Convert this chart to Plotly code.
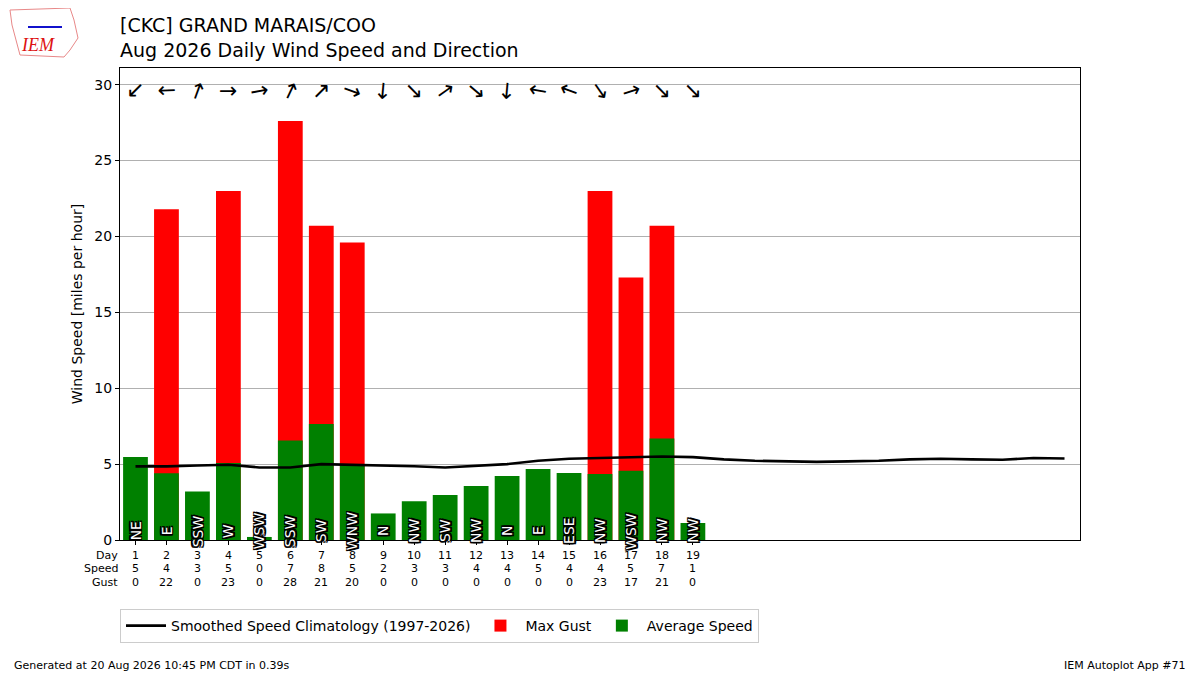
import plotly.graph_objects as go

# ---------------- data ----------------
days = list(range(1, 20))
avg_speed = [5.47, 4.4, 3.2, 5.07, 0.2, 6.55, 7.65, 5.0, 1.75, 2.55,
             2.97, 3.56, 4.22, 4.68, 4.42, 4.35, 4.57, 6.68, 1.12]
max_gust = [0, 21.8, 0, 23.0, 0, 27.6, 20.7, 19.6, 0, 0,
            0, 0, 0, 0, 0, 23.0, 17.3, 20.7, 0]
dir_labels = ["NE", "E", "SSW", "W", "WSW", "SSW", "SW", "WNW", "N", "NW",
              "SW", "NW", "N", "E", "ESE", "NW", "WSW", "NW", "NW"]
dir_deg = [45, 88, 200, 270, 260, 205, 225, 290, 5, 315,
           235, 310, 5, 100, 110, 325, 252, 315, 315]
clim_days = list(range(1, 32))
clim_speed = [4.85, 4.85, 4.91, 4.96, 4.78, 4.78, 5.0, 4.96, 4.93, 4.86,
              4.78, 4.87, 5.0, 5.22, 5.35, 5.4, 5.44, 5.5, 5.46, 5.31,
              5.22, 5.18, 5.15, 5.18, 5.22, 5.31, 5.35, 5.31, 5.29, 5.4, 5.37]

# ---------------- layout helpers ----------------
OFF = 8  # page body margin
W, H = 1200 - OFF, 675 - OFF
L, R, T, B = 120, 1080, 68, 540  # plot area in window pixels


def px(x):
    return (x - L) / (R - L)


def py(y):
    return (B - y) / (B - T)


FONT = "DejaVu Sans"

fig = go.Figure()
fig.add_trace(go.Bar(x=days, y=max_gust, width=0.8, marker=dict(color="#ff0000", line_width=0),
                     name="Max Gust", legendrank=2))
fig.add_trace(go.Bar(x=days, y=avg_speed, width=0.8, marker=dict(color="#008000", line_width=0),
                     name="Average Speed", legendrank=3))
fig.add_trace(go.Scatter(x=clim_days, y=clim_speed, mode="lines", line=dict(color="black", width=2.6),
                         name="Smoothed Speed Climatology (1997-2026)", legendrank=1))

ann = []
o = "1.5px"
outline = (f"{o} {o} 0 #000, -{o} -{o} 0 #000, {o} -{o} 0 #000, -{o} {o} 0 #000, "
           f"0 {o} 0 #000, 0 -{o} 0 #000, {o} 0 0 #000, -{o} 0 0 #000")
for d, lab, deg, s, g in zip(days, dir_labels, dir_deg, avg_speed, max_gust):
    # direction label inside the bar
    ann.append(dict(x=d, y=0.6, xref="x", yref="y", text=lab, showarrow=False, textangle=-90,
                    font=dict(family=FONT, size=14, color="white", shadow=outline)))
    # wind direction arrow
    ann.append(dict(x=d, y=29.6, xref="x", yref="y", text="→", showarrow=False, textangle=deg + 90,
                    font=dict(family=FONT, size=22, color="black")))
    # table
    for row, val in enumerate([d, round(s), round(g)]):
        ann.append(dict(x=d, y=0, xref="x", yref="paper", yanchor="middle", yshift=-(15 + row * 13.5),
                        text=str(val), showarrow=False, font=dict(family=FONT, size=11, color="black")))

for row, lab in enumerate(["Day", "Speed", "Gust"]):
    ann.append(dict(x=px(120), y=0, xref="paper", yref="paper", xanchor="right", yanchor="middle",
                    yshift=-(15 + row * 13.5), text=lab, showarrow=False,
                    font=dict(family=FONT, size=11, color="black")))

# titles
ann.append(dict(x=px(118), y=py(12), xref="paper", yref="paper", xanchor="left", yanchor="top",
                align="left", showarrow=False,
                text="[CKC] GRAND MARAIS/COO<br>Aug 2026 Daily Wind Speed and Direction",
                font=dict(family=FONT, size=19, color="black")))
# footers
ann.append(dict(x=px(12), y=py(665), xref="paper", yref="paper", xanchor="left", yanchor="middle",
                showarrow=False, text="Generated at 20 Aug 2026 10:45 PM CDT in 0.39s",
                font=dict(family=FONT, size=11, color="black")))
ann.append(dict(x=px(1188), y=py(665), xref="paper", yref="paper", xanchor="right", yanchor="middle",
                showarrow=False, text="IEM Autoplot App #71",
                font=dict(family=FONT, size=11, color="black")))
# logo text
ann.append(dict(x=px(38), y=py(45), xref="paper", yref="paper", xanchor="center", yanchor="middle",
                showarrow=False, text="<i>IEM</i>",
                font=dict(family="Liberation Serif", size=18, color="#dd1111")))

# simple logo outline
pts = [(10, 10), (70, 8), (74, 20), (78, 38), (70, 50), (64, 57), (20, 55), (16, 40), (12, 25)]
path = "M " + " L ".join(f"{px(a)},{py(b)}" for a, b in pts) + " Z"
shapes = [dict(type="path", xref="paper", yref="paper", path=path,
               line=dict(color="#e88888", width=1), fillcolor="rgba(0,0,0,0)"),
          dict(type="line", xref="paper", yref="paper", x0=px(28), x1=px(62), y0=py(27), y1=py(27),
               line=dict(color="#1111cc", width=2))]

fig.update_layout(
    width=W, height=H,
    margin=dict(l=L - OFF, r=1200 - R, t=T - OFF, b=675 - B),
    paper_bgcolor="white", plot_bgcolor="white",
    barmode="overlay", bargap=0.2,
    font=dict(family=FONT, size=13, color="black"),
    annotations=ann, shapes=shapes,
    showlegend=True,
    legend=dict(orientation="h", x=0, xanchor="left", y=py(609), yanchor="top",
                bordercolor="#cccccc", borderwidth=1, font=dict(family=FONT, size=14),
                traceorder="normal", itemwidth=40),
    xaxis=dict(range=[0.5, 31.5], tickvals=days, ticktext=[""] * len(days), ticks="outside",
               ticklen=4, tickcolor="black", showgrid=False, zeroline=False,
               showline=True, linecolor="black", linewidth=1, mirror=True),
    yaxis=dict(range=[0, 31.1], tickvals=[0, 5, 10, 15, 20, 25, 30], ticks="outside", ticklen=4,
               tickcolor="black", tickfont=dict(size=14), showgrid=True, gridcolor="#b0b0b0",
               gridwidth=1, zeroline=False, showline=True, linecolor="black", linewidth=1, mirror=True,
               title=dict(text="Wind Speed [miles per hour]", font=dict(size=14), standoff=8)),
)

fig.write_html("out.html")
